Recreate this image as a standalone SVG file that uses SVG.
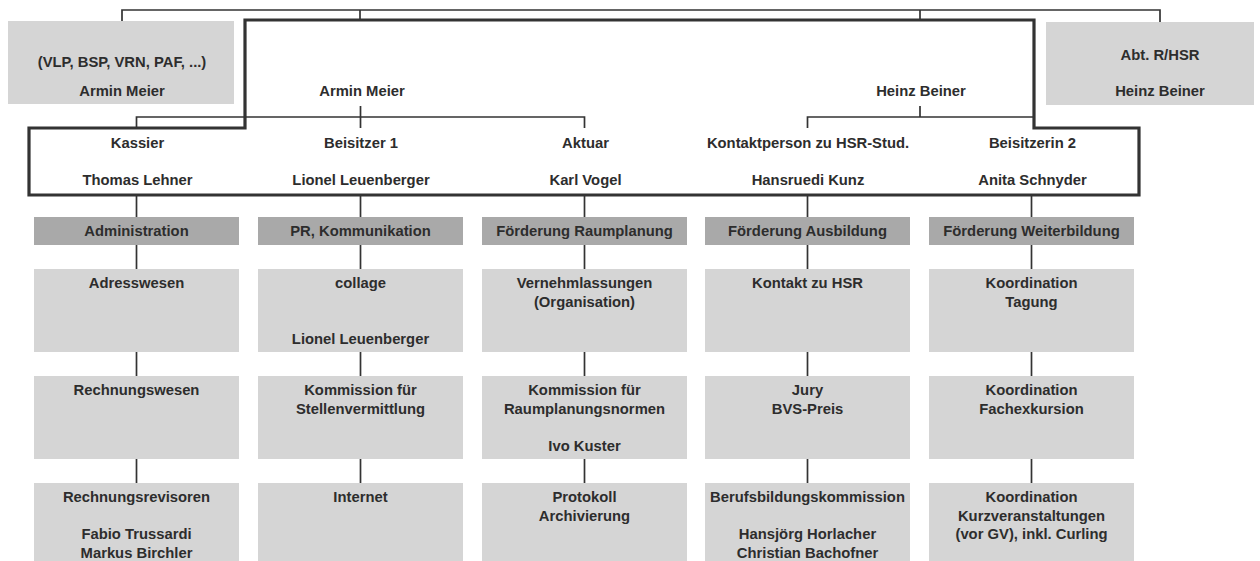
<svg xmlns="http://www.w3.org/2000/svg" width="1260" height="561" viewBox="0 0 1260 561">
<style>
.bg{fill:#ffffff}
.hdr{fill:#a9a9a9}
.box{fill:#d5d5d5}
.ext{fill:#d5d5d5}
.t{font-family:"Liberation Sans",Arial,Helvetica,sans-serif;font-weight:bold;font-size:14.8px;fill:#2d2d2d;text-anchor:middle}
.ln{stroke:#333333;stroke-width:1.7;fill:none}
.thick{stroke:#333333;stroke-width:3.2;fill:none;stroke-linejoin:miter}
</style>
<rect class="bg" x="0" y="0" width="1260" height="561"/>

<g id="connectors">
  <path class="ln" d="M122,21 V10 H1160 V22"/>
  <path class="ln" d="M360,10 V20 M920,10 V20"/>
  <path class="ln" d="M136.5,128 V117 H584.5 V128"/>
  <path class="ln" d="M360.5,106 V128"/>
  <path class="ln" d="M920,106 V117"/>
  <path class="ln" d="M807.5,128 V117 H1034"/>
  <path class="ln" d="M136.5,195 V217 M136.5,245 V269 M136.5,352 V376 M136.5,459 V483"/>
  <path class="ln" d="M360.5,195 V217 M360.5,245 V269 M360.5,352 V376 M360.5,459 V483"/>
  <path class="ln" d="M584.5,195 V217 M584.5,245 V269 M584.5,352 V376 M584.5,459 V483"/>
  <path class="ln" d="M807.5,195 V217 M807.5,245 V269 M807.5,352 V376 M807.5,459 V483"/>
  <path class="ln" d="M1031.5,195 V217 M1031.5,245 V269 M1031.5,352 V376 M1031.5,459 V483"/>
</g>

<g id="ext-left">
  <rect class="ext" x="8" y="21" width="226" height="83"/>
  <text class="t" x="122" y="67">(VLP, BSP, VRN, PAF, ...)</text>
  <text class="t" x="122" y="96">Armin Meier</text>
</g>
<g id="ext-right">
  <rect class="ext" x="1046" y="22" width="208" height="83"/>
  <text class="t" x="1160" y="60">Abt. R/HSR</text>
  <text class="t" x="1160" y="96">Heinz Beiner</text>
</g>

<g id="vorstand">
  <path class="thick" d="M245,20 H1034 V128 H1139 V195 H29 V128 H245 Z"/>
</g>
<g id="praesident-1"><text class="t" x="362" y="96">Armin Meier</text></g>
<g id="praesident-2"><text class="t" x="921" y="96">Heinz Beiner</text></g>
<g id="kassier">
  <text class="t" x="137.5" y="148">Kassier</text>
  <text class="t" x="137.5" y="185">Thomas Lehner</text>
</g>
<g id="beisitzer1">
  <text class="t" x="361" y="148">Beisitzer 1</text>
  <text class="t" x="361" y="185">Lionel Leuenberger</text>
</g>
<g id="aktuar">
  <text class="t" x="585.5" y="148">Aktuar</text>
  <text class="t" x="585.5" y="185">Karl Vogel</text>
</g>
<g id="kontaktperson">
  <text class="t" x="808" y="148">Kontaktperson zu HSR-Stud.</text>
  <text class="t" x="808" y="185">Hansruedi Kunz</text>
</g>
<g id="beisitzerin2">
  <text class="t" x="1032.5" y="148">Beisitzerin 2</text>
  <text class="t" x="1032.5" y="185">Anita Schnyder</text>
</g>

<!-- Column 1 -->
<g id="administration"><rect class="hdr" x="34" y="217" width="205" height="28"/><text class="t" x="136.5" y="236">Administration</text></g>
<g id="adresswesen"><rect class="box" x="34" y="269" width="205" height="83"/><text class="t" x="136.5" y="288">Adresswesen</text></g>
<g id="rechnungswesen"><rect class="box" x="34" y="376" width="205" height="83"/><text class="t" x="136.5" y="395">Rechnungswesen</text></g>
<g id="rechnungsrevisoren"><rect class="box" x="34" y="483" width="205" height="83"/><text class="t" x="136.5" y="502">Rechnungsrevisoren</text><text class="t" x="136.5" y="539">Fabio Trussardi</text><text class="t" x="136.5" y="557.5">Markus Birchler</text></g>

<!-- Column 2 -->
<g id="pr"><rect class="hdr" x="258" y="217" width="205" height="28"/><text class="t" x="360.5" y="236">PR, Kommunikation</text></g>
<g id="collage"><rect class="box" x="258" y="269" width="205" height="83"/><text class="t" x="360.5" y="288">collage</text><text class="t" x="360.5" y="343.5">Lionel Leuenberger</text></g>
<g id="stellenvermittlung"><rect class="box" x="258" y="376" width="205" height="83"/><text class="t" x="360.5" y="395">Kommission für</text><text class="t" x="360.5" y="413.5">Stellenvermittlung</text></g>
<g id="internet"><rect class="box" x="258" y="483" width="205" height="83"/><text class="t" x="360.5" y="502">Internet</text></g>

<!-- Column 3 -->
<g id="raumplanung"><rect class="hdr" x="482" y="217" width="205" height="28"/><text class="t" x="584.5" y="236">Förderung Raumplanung</text></g>
<g id="vernehmlassungen"><rect class="box" x="482" y="269" width="205" height="83"/><text class="t" x="584.5" y="288">Vernehmlassungen</text><text class="t" x="584.5" y="306.5">(Organisation)</text></g>
<g id="raumplanungsnormen"><rect class="box" x="482" y="376" width="205" height="83"/><text class="t" x="584.5" y="395">Kommission für</text><text class="t" x="584.5" y="413.5">Raumplanungsnormen</text><text class="t" x="584.5" y="450.5">Ivo Kuster</text></g>
<g id="protokoll"><rect class="box" x="482" y="483" width="205" height="83"/><text class="t" x="584.5" y="502">Protokoll</text><text class="t" x="584.5" y="520.5">Archivierung</text></g>

<!-- Column 4 -->
<g id="ausbildung"><rect class="hdr" x="705" y="217" width="205" height="28"/><text class="t" x="807.5" y="236">Förderung Ausbildung</text></g>
<g id="kontakt-hsr"><rect class="box" x="705" y="269" width="205" height="83"/><text class="t" x="807.5" y="288">Kontakt zu HSR</text></g>
<g id="jury"><rect class="box" x="705" y="376" width="205" height="83"/><text class="t" x="807.5" y="395">Jury</text><text class="t" x="807.5" y="413.5">BVS-Preis</text></g>
<g id="berufsbildung"><rect class="box" x="705" y="483" width="205" height="83"/><text class="t" x="807.5" y="502">Berufsbildungskommission</text><text class="t" x="807.5" y="539">Hansjörg Horlacher</text><text class="t" x="807.5" y="557.5">Christian Bachofner</text></g>

<!-- Column 5 -->
<g id="weiterbildung"><rect class="hdr" x="929" y="217" width="205" height="28"/><text class="t" x="1031.5" y="236">Förderung Weiterbildung</text></g>
<g id="tagung"><rect class="box" x="929" y="269" width="205" height="83"/><text class="t" x="1031.5" y="288">Koordination</text><text class="t" x="1031.5" y="306.5">Tagung</text></g>
<g id="fachexkursion"><rect class="box" x="929" y="376" width="205" height="83"/><text class="t" x="1031.5" y="395">Koordination</text><text class="t" x="1031.5" y="413.5">Fachexkursion</text></g>
<g id="kurzveranstaltungen"><rect class="box" x="929" y="483" width="205" height="83"/><text class="t" x="1031.5" y="502">Koordination</text><text class="t" x="1031.5" y="520.5">Kurzveranstaltungen</text><text class="t" x="1031.5" y="539">(vor GV), inkl. Curling</text></g>
</svg>
